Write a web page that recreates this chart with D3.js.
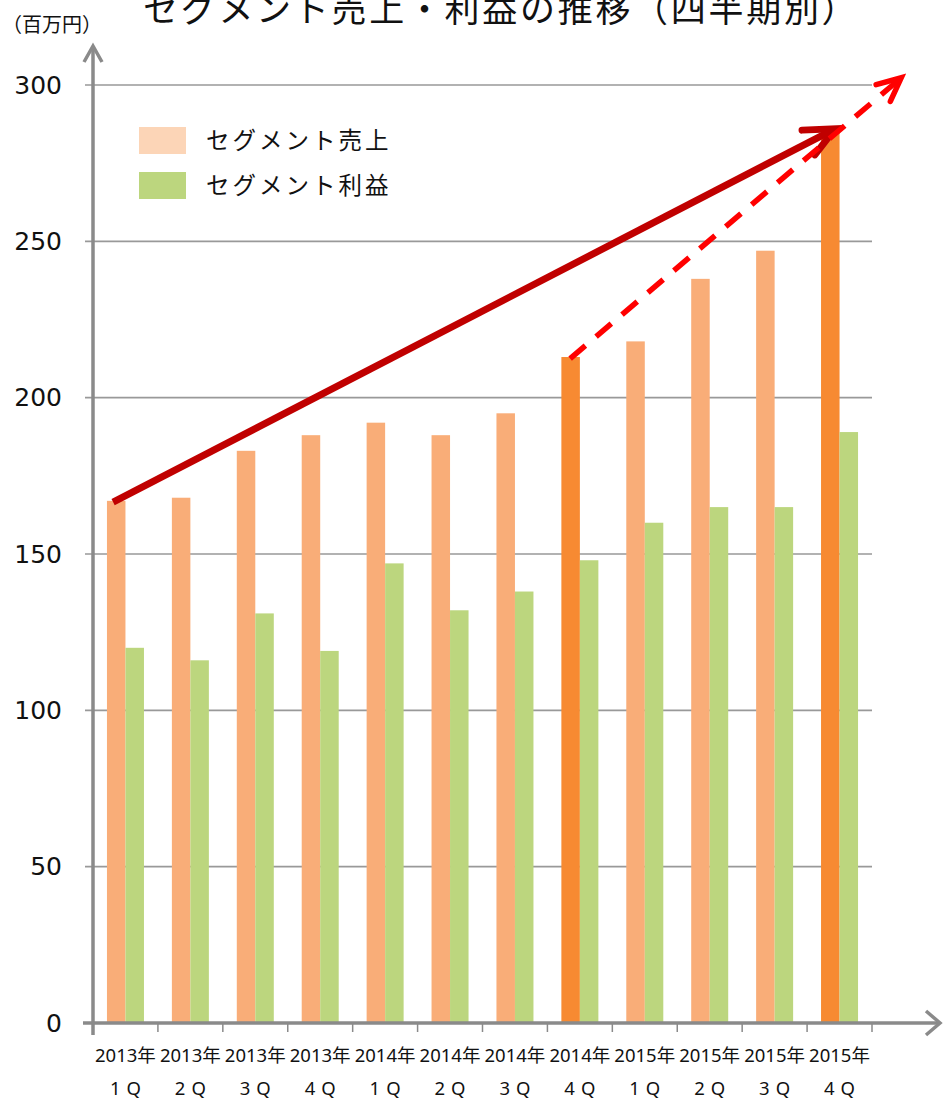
<!DOCTYPE html>
<html><head><meta charset="utf-8">
<script src="https://cdn.jsdelivr.net/npm/d3@7"></script>
<style>body{margin:0;background:#fff}svg{display:block}</style>
</head><body>
<svg id="chart" width="944" height="1101"></svg>
<script>
// ---- data ----
const years    = ["2013年","2013年","2013年","2013年","2014年","2014年","2014年","2014年","2015年","2015年","2015年","2015年"];
const quarters = ["1Q","2Q","3Q","4Q","1Q","2Q","3Q","4Q","1Q","2Q","3Q","4Q"];
const sales    = [167,168,183,188,192,188,195,213,218,238,247,285];
const profit   = [120,116,131,119,147,132,138,148,160,165,165,189];
const highlightIdx = [7, 11];
const yTicks   = [0,50,100,150,200,250,300];
const seriesNames = ["セグメント売上","セグメント利益"];
// annotation arrows: [category position (0 = left edge of first band), value]
const solidArrow  = {from:[0.31,166.6], to:[11.43,286]};
const dashedArrow = {from:[7.35,212.5], to:[12.45,302.3]};

(function(){
// ---- layout ----
const svg = d3.select("#chart");
const pL = 93, pR = 872, pT = 85, pB = 1023;
const idx = d3.range(years.length);
const x = d3.scaleBand().domain(idx).range([pL, pR]).paddingInner(0.43).paddingOuter(0.215);
const xs = d3.scaleBand().domain([0,1]).range([0, x.bandwidth()]);
const xPos = d3.scaleLinear().domain([0, years.length]).range([pL, pR]);
const y = d3.scaleLinear().domain([0,300]).range([pB, pT]);

const gray = "#8a8a8a";
const cOrange = "#F9AD78", cOrangeDark = "#F78A32", cGreen = "#BCD67E", cLegendOrange = "#FCD5B7";

// gridlines
svg.append("g").selectAll("line").data(yTicks.filter(d=>d>0)).join("line")
  .attr("x1", pL-8).attr("x2", pR).attr("y1", d=>y(d)).attr("y2", d=>y(d))
  .attr("stroke", "#999").attr("stroke-width", 1.6);

// y axis labels
const yAxis = d3.axisLeft(y).tickValues(yTicks).tickSize(0).tickPadding(31).tickFormat(d3.format("d"));
const ga = svg.append("g").attr("transform", `translate(${pL},0)`).call(yAxis);
ga.select(".domain").remove();
ga.selectAll("text").attr("font-family","DejaVu Sans, Verdana, sans-serif").attr("font-size",25).attr("fill","#111");

// bars
const g = svg.append("g");
g.selectAll("rect.s").data(idx).join("rect").attr("class","s")
  .attr("x", i=>x(i)+xs(0)).attr("width", xs.bandwidth())
  .attr("y", i=>y(sales[i])).attr("height", i=>y(0)-y(sales[i]))
  .attr("fill", i=>highlightIdx.includes(i)?cOrangeDark:cOrange);
g.selectAll("rect.p").data(idx).join("rect").attr("class","p")
  .attr("x", i=>x(i)+xs(1)).attr("width", xs.bandwidth())
  .attr("y", i=>y(profit[i])).attr("height", i=>y(0)-y(profit[i]))
  .attr("fill", cGreen);

// axes lines with arrowheads
const ax = svg.append("g").attr("stroke", gray).attr("stroke-width", 3.5).attr("fill","none").attr("stroke-linecap","butt");
ax.append("line").attr("x1", pL).attr("x2", pL).attr("y1", pB+12).attr("y2", 46);
ax.append("path").attr("d", `M${pL-9},${62} L${pL},${46} L${pL+9},${62}`).attr("stroke-linejoin","miter");
ax.append("line").attr("x1", pL-10).attr("x2", 940).attr("y1", pB).attr("y2", pB);
ax.append("path").attr("d", `M${926},${pB-12} L${940},${pB} L${926},${pB+12}`);
// x ticks at band boundaries
svg.append("g").selectAll("line").data(d3.range(1, years.length+1)).join("line")
  .attr("x1", k=>xPos(k)).attr("x2", k=>xPos(k)).attr("y1", pB).attr("y2", pB+9)
  .attr("stroke", gray).attr("stroke-width", 1.5);

// x labels
const xl = svg.append("g").attr("font-family","'Noto Sans', 'Noto Sans CJK JP', sans-serif").attr("font-size",18.5).attr("fill","#111").attr("text-anchor","middle");
xl.selectAll("text.y").data(idx).join("text").attr("class","y")
  .attr("x", i=>x(i)+x.bandwidth()/2).attr("y", 1062).text(i=>years[i]);
xl.selectAll("text.q").data(idx).join("text").attr("class","q")
  .attr("x", i=>x(i)+x.bandwidth()/2+3).attr("y", 1095).attr("letter-spacing", 6).text(i=>quarters[i]);

// arrows
function arrow(a, color, width, dash, headLen, headAng){
  const x1 = xPos(a.from[0]), y1 = y(a.from[1]), x2 = xPos(a.to[0]), y2 = y(a.to[1]);
  const ang = Math.atan2(y1-y2, x1-x2);
  const ag = svg.append("g").attr("stroke", color).attr("stroke-width", width).attr("fill","none");
  const l = ag.append("line").attr("x1", x1).attr("y1", y1).attr("x2", x2 + Math.cos(ang)*width*0.4).attr("y2", y2 + Math.sin(ang)*width*0.4);
  if (dash) l.attr("stroke-dasharray", dash);
  const a1 = ang + headAng, a2 = ang - headAng;
  ag.append("path").attr("d", `M${x2+Math.cos(a1)*headLen},${y2+Math.sin(a1)*headLen} L${x2},${y2} L${x2+Math.cos(a2)*headLen},${y2+Math.sin(a2)*headLen}`)
    .attr("stroke-linecap","round").attr("stroke-linejoin","miter");
}
arrow(solidArrow, "#C00000", 7, null, 33, 25*Math.PI/180);
arrow(dashedArrow, "#FF0000", 5.5, "20 14", 26, 25*Math.PI/180);

// legend
const lg = svg.append("g");
[cLegendOrange, cGreen].forEach((c,i)=>{
  lg.append("rect").attr("x",139).attr("y",127+i*45).attr("width",47).attr("height",27).attr("fill",c);
  lg.append("text").attr("x",206).attr("y",149+i*45).attr("font-family","'Noto Sans CJK JP', sans-serif")
    .attr("font-size",23.5).attr("letter-spacing",3).attr("fill","#111").text(seriesNames[i]);
});

// title & unit
svg.append("text").attr("x",143).attr("y",22).attr("font-family","'Noto Sans CJK JP', sans-serif")
  .attr("font-size",35).attr("letter-spacing",2.7).attr("fill","#111").text("セグメント売上・利益の推移（四半期別）");
svg.append("text").attr("x",2).attr("y",32).attr("font-family","'Noto Sans CJK JP', sans-serif")
  .attr("font-size",20).attr("fill","#111").text("（百万円）");
})();
</script>
</body></html>
